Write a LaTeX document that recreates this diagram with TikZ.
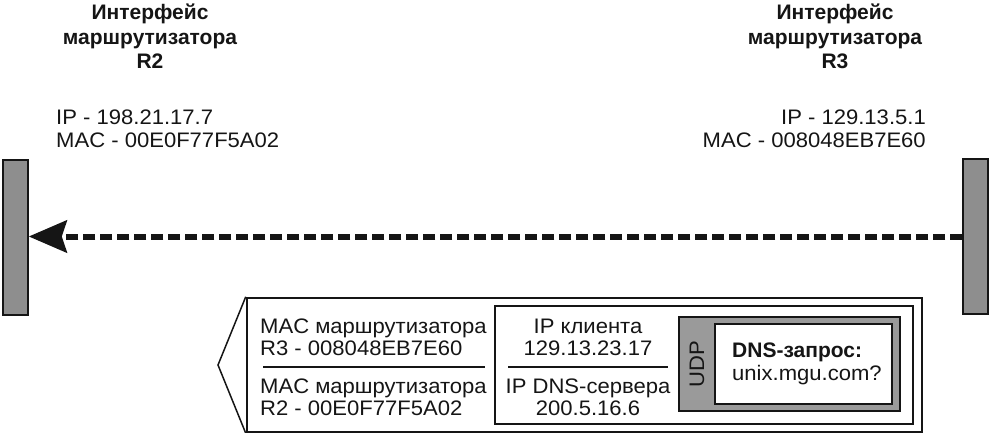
\documentclass[tikz,border=0pt]{standalone}
\usepackage{fontspec}
\setmainfont{Liberation Sans}
\newfontfamily\regfont{Liberation Sans}[FakeStretch=1.05]
\usetikzlibrary{arrows.meta}
\definecolor{ink}{HTML}{151515}
\definecolor{bargray}{HTML}{8E8E8E}
\definecolor{udpgray}{HTML}{9A9A9A}
\tikzset{
  txt/.style={inner sep=0pt, text=ink, font=\regfont\fontsize{21}{22}\selectfont},
  ttl/.style={inner sep=0pt, text=ink, font=\fontsize{21}{22}\selectfont\bfseries},
  bar/.style={draw=ink, line width=1.5pt, fill=bargray, minimum width=25pt, minimum height=155pt, inner sep=0pt},
  framebox/.style={draw=ink, line width=2.5pt, inner sep=0pt},
  ipbox/.style={draw=ink, line width=2.5pt, inner sep=0pt},
  udpbox/.style={draw=ink, line width=1.5pt, fill=udpgray, inner sep=0pt},
  dnsbox/.style={draw=ink, line width=2pt, fill=white, inner sep=0pt},
  sepline/.style={draw=ink, line width=1.5pt},
  dasharrow/.style={draw=ink, line width=6pt, dash pattern=on 12pt off 5pt,
    -{Stealth[length=38pt,width=32pt,inset=5pt]}},
}
\begin{document}
\begin{tikzpicture}[x=1pt,y=-1pt]
\useasboundingbox (0,0) rectangle (991,433);
% bars
\node[bar] (L) at (15.5,237.5) {};
\node[bar] (R) at (975.5,236.5) {};
\draw[dasharrow] (R.west) -- (L.east |- R.west);
% top labels left
\node[ttl, anchor=base] (t2a) at (150,20) {Интерфейс};
\node[ttl, anchor=base] (t2b) at (150,45) {маршрутизатора};
\node[ttl, anchor=base] (t2c) at (150,69) {R2};
\node[txt, anchor=base west] (ip2) at (56,125) {IP - 198.21.17.7};
\node[txt, anchor=base west] (mac2) at (56,148) {MAC - 00E0F77F5A02};
% top labels right
\node[ttl, anchor=base] (t3a) at (835,20) {Интерфейс};
\node[ttl, anchor=base] (t3b) at (835,45) {маршрутизатора};
\node[ttl, anchor=base] (t3c) at (835,69) {R3};
\node[txt, anchor=base east] (ip3) at (926,125) {IP - 129.13.5.1};
\node[txt, anchor=base east] (mac3) at (926,148) {MAC - 008048EB7E60};
% packet frame
\node[framebox, minimum width=675pt, minimum height=134pt] (frame) at (584.5,365) {};
\coordinate (tip) at (218,365);
\draw[ink, line width=1.5pt, line join=miter] (frame.north west) -- (tip) -- (frame.south west);
\node[ipbox, minimum width=418pt, minimum height=118pt] (ipp) at (704,365) {};
\node[udpbox, minimum width=221pt, minimum height=94pt] (udp) at (789.5,364) {};
\node[dnsbox, minimum width=177pt, minimum height=80pt] (dns) at (803.5,364) {};
% MAC section
\node[txt, anchor=base west] (m1) at (260,333) {MAC маршрутизатора};
\node[txt, anchor=base west] (m2) at (260,355) {R3 - 008048EB7E60};
\node[txt, anchor=base west] (m3) at (260,393) {MAC маршрутизатора};
\node[txt, anchor=base west] (m4) at (260,415) {R2 - 00E0F77F5A02};
\coordinate (ms1) at (263,367);
\coordinate (ms2) at (485,367);
\draw[sepline] (ms1) -- (ms2);
% IP section
\node[txt, anchor=base] (i1) at (588,333) {IP клиента};
\node[txt, anchor=base] (i2) at (588,355) {129.13.23.17};
\node[txt, anchor=base] (i3) at (588,393) {IP DNS-сервера};
\node[txt, anchor=base] (i4) at (588,415) {200.5.16.6};
\coordinate (is1) at (508,367);
\coordinate (is2) at (668,367);
\draw[sepline] (is1) -- (is2);
% UDP
\node[txt, rotate=90] (udpl) at (697,364) {UDP};
\node[ttl, anchor=base west] (d1) at (732,357) {DNS-запрос:};
\node[txt, anchor=base west] (d2) at (732,380) {unix.mgu.com?};
\end{tikzpicture}
\end{document}
